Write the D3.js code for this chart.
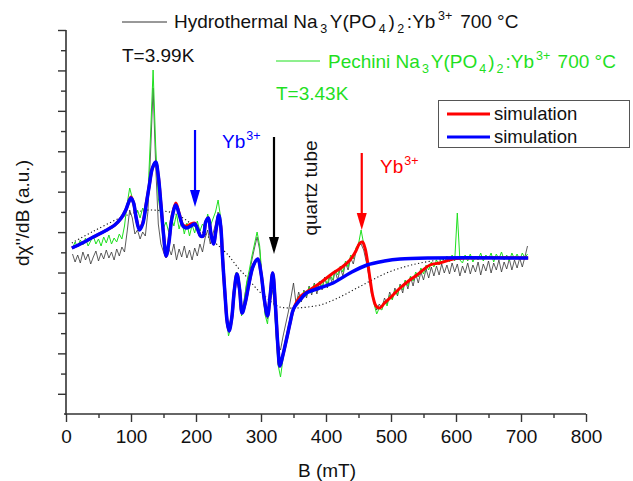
<!DOCTYPE html>
<html>
<head>
<meta charset="utf-8">
<script src="https://cdn.jsdelivr.net/npm/d3@7"></script>
<style>
  body { margin: 0; background: #fff; }
  svg { display: block; font-family: "Liberation Sans", Arial, sans-serif; }
</style>
</head>
<body>
<svg id="chart" width="633" height="481"></svg>
<script>
// Magnetic field sweep (mT) of the recorded spectra
const fieldB = [10,14,18,22,26,30,34,38,42,46,50,54,58,62,66,70,74,78,82,86,90,94,98,102,106,110,114,118,122,126,130,134,138,142,146,150,154,158,162,166,170,174,178,182,186,190,194,198,202,206,210,214,218,222,226,230,234,238,242,246,250,254,258,262,266,270,274,278,282,286,290,294,298,302,306,310,314,318,322,326,330,334,338,342,346,350,354,358,362,366,370,374,378,382,386,390,394,398,402,406,410,414,418,422,426,430,434,438,442,446,450,454,458,462,466,470,474,478,482,486,490,494,498,502,506,510,514,518,522,526,530,534,538,542,546,550,554,558,562,566,570,574,578,582,586,590,594,598,602,606,610,614,618,622,626,630,634,638,642,646,650,654,658,662,666,670,674,678,682,686,690,694,698,702,706,710];

// Pechini sample, T = 3.43 K (a.u.)
const pechiniSignal = [146,152,147,154,149,156,148,153,158,150,
155,148,157,151,159,150,156,152,160,155,
168,190,206,196,178,184,176,186,179,198,
258,324,248,196,178,166,172,162,176,168,
180,165,174,160,171,158,169,161,173,163,
170,166,180,168,175,182,194,176,128,82,
58,68,96,122,108,78,92,112,124,138,
150,162,148,112,80,70,96,117,72,30,
17,36,52,64,78,86,92,98,94,103,
98,107,101,110,104,113,107,116,110,120,
114,124,119,128,122,133,127,139,135,146,
150,164,150,140,122,104,90,80,86,84,
93,88,99,94,104,99,109,104,114,108,
118,113,122,117,126,120,129,124,132,127,
134,129,137,131,138,132,139,133,181,134,
131,139,133,140,132,138,134,141,133,139,
135,141,132,140,135,142,134,139,133,141,
135,140,134,141,136,140];

// Hydrothermal sample, T = 3.99 K (a.u.)
const hydroSignal = [140,132,139,131,142,134,140,130,137,143,
133,141,135,144,136,142,134,145,138,147,
142,162,184,176,160,164,155,162,158,182,
240,306,228,170,150,142,136,146,139,150,
134,145,137,148,136,144,134,146,138,150,
142,156,164,150,160,170,182,166,126,86,
66,76,98,116,104,82,94,110,120,134,
146,157,144,110,84,75,92,104,80,50,
44,58,70,82,96,111,90,102,92,104,
96,108,99,111,100,112,104,117,106,118,
110,123,114,126,118,131,124,136,130,142,
148,150,144,132,118,100,92,84,90,86,
96,90,102,95,106,98,110,101,114,105,
117,108,120,111,122,114,125,116,127,118,
128,119,130,121,129,120,131,122,130,118,
128,121,131,120,129,122,132,119,130,123,
133,121,131,124,134,122,132,125,135,124,
134,126,136,127,137,148];

// Simulated spectrum (blue)
const simBlueB = [9,25,42,60,75,85,92,96,100,104,108,113,118,123,128,133,138,142,146,150,154,158,163,169,174,180,186,192,198,203,207,211,215,219,223,227,231,235,238,241,245,248,251,255,259,263,267,271,276,282,288,295,300,305,310,314,318,322,326,329,333,340,345,350,360,370,390,411,437,463,490,514,560,711];
const simBlueV = [146,151,157,163,169,176,184,191,196,191,176,164,170,188,208,226,232,218,190,160,138,150,176,189,180,168,166,168,170,164,158,158,172,176,160,150,165,179,168,135,96,72,63,76,104,120,105,81,92,112,128,135,121,95,78,98,121,90,48,28,37,57,72,85,94,101,106,111,121,129,133,135,136,136];

// Simulated spectrum (red), including the Yb3+ line near 455 mT
const simRedB = [9,25,42,60,75,85,92,96,100,104,108,113,118,123,128,133,138,142,146,150,154,158,163,169,174,180,186,192,198,203,207,211,215,219,223,227,231,235,238,241,245,248,251,255,259,263,267,271,276,282,288,295,300,305,310,314,318,322,326,329,333,340,345,350,360,375,391,411,425,437,446,452,456,460,464,468,472,477,483,490,500,514,527,540,560,575,596,620,711];
const simRedV = [146,151,157,163,169,176,184,191,197,191,176,165,171,189,208,226,232,218,190,160,138,151,177,191,181,169,168,170,171,164,158,158,172,176,160,150,165,179,168,135,96,72,63,76,104,120,105,81,92,112,128,135,121,95,78,98,121,90,48,28,37,57,72,85,97,104,111,121,127,134,143,151,152,146,132,114,98,88,86,91,97,106,113,119,129,131,135,136,136];

// Broad background (dotted)
const backgroundB = [9,40,83,109,129,149,165,180,195,206,228,248,265,278,295,309,320,329,342,355,372,391,415,442,468,493,520,545,575,606];
const backgroundV = [151,162,176,182,184,183,181,176,169,164,152,140,126,117,104,96,90,87,86,86,87,89,95,104,113,121,127,131,134,135.5];

// Axis ticks
const xMajorTicks = [0,100,200,300,400,500,600,700,800];
const xMinorTicks = [50,150,250,350,450,550,650,750];
const yRange = [-20, 364];
const yTickCount = 19;

// Arrow annotations: field position, top and tip level
const arrows = [
  { b: 198.5, top: 264, tip: 187, color: "#0000ff" },
  { b: 320,   top: 257, tip: 140, color: "#000000" },
  { b: 455,   top: 241, tip: 164, color: "#ff0000" }
];

const svg = d3.select("#chart");
const x = d3.scaleLinear().domain([0, 800]).range([66, 586]);
const y = d3.scaleLinear().domain(yRange).range([414, 30]);

const green = "#1fe01f";

// ---- axes ----
const yTicks = d3.range(yTickCount + 1).map(k => yRange[0] + k * (yRange[1] - yRange[0]) / yTickCount);
const yMajor = yTicks.filter((d, k) => k % 2 === 1);
const yMinor = yTicks.filter((d, k) => k % 2 === 0 && k > 0);

const axisColor = "#333";
const gx = svg.append("g").attr("transform", "translate(0,414)")
  .call(d3.axisBottom(x).tickValues(xMajorTicks).tickSize(8).tickPadding(8).tickSizeOuter(0));
svg.append("g").attr("transform", "translate(0,414)")
  .call(d3.axisBottom(x).tickValues(xMinorTicks).tickSize(4).tickFormat("").tickSizeOuter(0))
  .select(".domain").remove();
const gy = svg.append("g").attr("transform", "translate(66,0)")
  .call(d3.axisLeft(y).tickValues(yMajor).tickSize(8).tickFormat("").tickSizeOuter(0));
svg.append("g").attr("transform", "translate(66,0)")
  .call(d3.axisLeft(y).tickValues(yMinor).tickSize(5).tickFormat("").tickSizeOuter(0))
  .select(".domain").remove();

svg.selectAll(".domain").attr("stroke", axisColor).attr("stroke-width", 1.6);
svg.selectAll(".tick line").attr("stroke", axisColor).attr("stroke-width", 1.4);
gx.selectAll(".tick text").attr("font-size", 19).attr("fill", "#111")
  .attr("font-family", "Liberation Sans, Arial, sans-serif");
gx.select(".domain").attr("d", "M64,0H586");
gy.select(".domain").attr("d", "M0,30V415");

// axis titles
svg.append("text").attr("x", 327).attr("y", 477).attr("text-anchor", "middle")
  .attr("font-size", 19).attr("fill", "#111").text("B (mT)");
svg.append("text").attr("transform", "translate(29,213) rotate(-90)").attr("text-anchor", "middle")
  .attr("font-size", 19).attr("fill", "#111").text("dχ''/dB (a.u.)");

// ---- traces ----
const lineXY = d3.line().x(d => x(d[0])).y(d => y(d[1]));
const smooth = d3.line().x(d => x(d[0])).y(d => y(d[1])).curve(d3.curveCatmullRom.alpha(0.5));

svg.append("path").datum(d3.zip(backgroundB, backgroundV)).attr("d", smooth)
  .attr("fill", "none").attr("stroke", "#111").attr("stroke-width", 1.1).attr("stroke-dasharray", "1.2,2.4");

svg.append("path").datum(d3.zip(fieldB, hydroSignal)).attr("d", lineXY)
  .attr("fill", "none").attr("stroke", "#333").attr("stroke-width", 0.8);
svg.append("path").datum(d3.zip(fieldB, pechiniSignal)).attr("d", lineXY)
  .attr("fill", "none").attr("stroke", green).attr("stroke-width", 1);

svg.append("path").datum(d3.zip(simRedB, simRedV)).attr("d", smooth)
  .attr("fill", "none").attr("stroke", "#ff0000").attr("stroke-width", 3);
svg.append("path").datum(d3.zip(simBlueB, simBlueV)).attr("d", smooth)
  .attr("fill", "none").attr("stroke", "#0000ff").attr("stroke-width", 3.5);

// ---- arrows ----
arrows.forEach(a => {
  const ax = x(a.b), y0 = y(a.top), y1 = y(a.tip);
  svg.append("line").attr("x1", ax).attr("x2", ax).attr("y1", y0).attr("y2", y1 - 12)
    .attr("stroke", a.color).attr("stroke-width", 2.2);
  svg.append("path").attr("d", `M${ax - 5},${y1 - 17}L${ax + 5},${y1 - 17}L${ax},${y1}Z`).attr("fill", a.color);
});

// ---- rich text helper (sub/superscripts) ----
function rich(x0, y0, parts, color, size, gap) {
  const t = svg.append("text").attr("x", x0).attr("y", y0).attr("font-size", size).attr("fill", color);
  let off = 0, prevKind = null;
  parts.forEach(([s, kind], i) => {
    const target = kind === "sub" ? 5 : kind === "sup" ? -8 : 0;
    const ts = t.append("tspan").attr("dy", target - off).attr("font-size", kind ? 12.5 : size).text(s);
    if (i > 0 && (kind || prevKind)) ts.attr("dx", gap);
    off = target;
    prevKind = kind;
  });
  return t;
}

// legend entries for measured spectra
const formula = [["Na"], ["3", "sub"], ["Y(PO"], ["4", "sub"], [")"], ["2", "sub"], [":Yb"], ["3+", "sup"], [" 700 °C"]];
svg.append("line").attr("x1", 122).attr("x2", 167).attr("y1", 22).attr("y2", 22).attr("stroke", "#333").attr("stroke-width", 1);
rich(174, 28, [["Hydrothermal "]].concat(formula), "#111", 19, 2.6);
svg.append("text").attr("x", 122).attr("y", 62).attr("font-size", 19).attr("fill", "#111").text("T=3.99K");

svg.append("line").attr("x1", 276).attr("x2", 320).attr("y1", 61).attr("y2", 61).attr("stroke", green).attr("stroke-width", 1);
rich(328, 68, [["Pechini "]].concat(formula), green, 19, 2.0);
svg.append("text").attr("x", 276).attr("y", 100).attr("font-size", 19).attr("fill", green).text("T=3.43K");

// simulation legend box
svg.append("rect").attr("x", 438.5).attr("y", 100.5).attr("width", 191).attr("height", 47)
  .attr("fill", "none").attr("stroke", "#555").attr("stroke-width", 1);
[["#ff0000", 114, 120], ["#0000ff", 137, 143]].forEach(([c, ly, ty]) => {
  svg.append("line").attr("x1", 447).attr("x2", 490).attr("y1", ly).attr("y2", ly).attr("stroke", c).attr("stroke-width", 3);
  svg.append("text").attr("x", 494).attr("y", ty).attr("font-size", 18.5).attr("fill", "#111").text("simulation");
});

// peak labels
rich(222, 148, [["Yb"], ["3+", "sup"]], "#0000ff", 19, 1);
rich(380, 173, [["Yb"], ["3+", "sup"]], "#ff0000", 19, 1);
svg.append("text").attr("transform", "translate(317,188) rotate(-90)").attr("text-anchor", "middle")
  .attr("font-size", 19).attr("fill", "#111").text("quartz tube");
</script>
</body>
</html>
